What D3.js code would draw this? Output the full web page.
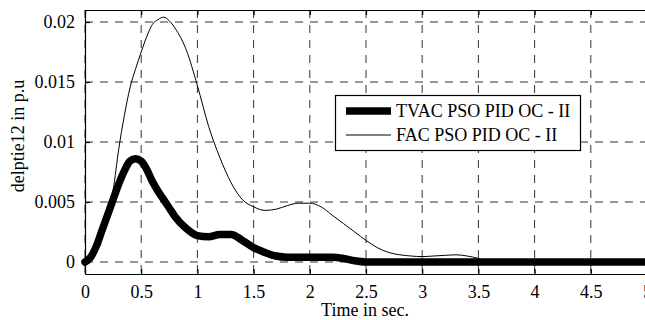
<!DOCTYPE html>
<html>
<head>
<meta charset="utf-8">
<script src="https://cdn.jsdelivr.net/npm/d3@7"></script>
<style>
  html, body { margin: 0; padding: 0; background: #fff; }
  svg { display: block; font-family: "Liberation Serif", "Times New Roman", serif; }
  svg text { font-family: "Liberation Serif", "Times New Roman", serif !important; }
</style>
</head>
<body>
<svg id="chart" width="645" height="320"></svg>
<script>
// Tie-line power deviation (delPtie12) responses, sampled in time (s)
const time = [0, 0.05, 0.1, 0.15, 0.2, 0.25, 0.3, 0.35, 0.4, 0.45, 0.5, 0.55, 0.6, 0.65, 0.7, 0.75,
  0.8, 0.9, 1.0, 1.1, 1.2, 1.3, 1.4, 1.5, 1.6, 1.7, 1.8, 1.9, 2.0, 2.1, 2.2, 2.3, 2.4, 2.5,
  2.6, 2.7, 2.8, 2.9, 3.0, 3.1, 3.2, 3.3, 3.4, 3.5, 3.6, 3.8, 4.0, 4.5, 5.0];

const tvacValues = [0, 0.0004, 0.0013, 0.0026, 0.0039, 0.0052, 0.0065, 0.0076, 0.0084, 0.0086, 0.0084, 0.0077,
  0.0067, 0.0059, 0.0052, 0.0045, 0.0038, 0.0028, 0.0022, 0.0021, 0.0023, 0.0023, 0.0018, 0.0012,
  0.0008, 0.0005, 0.0004, 0.0004, 0.0004, 0.0004, 0.0004, 0.0003, 0.0001, 0, 0, 0, 0, 0, 0, 0, 0, 0,
  0, 0, 0, 0, 0, 0, 0];

const facValues = [0, 0.0004, 0.0013, 0.0026, 0.0040, 0.0060, 0.0094, 0.0122, 0.0145, 0.0161, 0.0175, 0.0188,
  0.0198, 0.0202, 0.0204, 0.0201, 0.0195, 0.0177, 0.0147, 0.0113, 0.0087, 0.0066, 0.0052, 0.0046,
  0.0043, 0.0044, 0.0047, 0.0049, 0.0049, 0.0046, 0.0039, 0.0032, 0.0025, 0.0018, 0.0012, 0.0008,
  0.0006, 0.0005, 0.00045, 0.0005, 0.00055, 0.0006, 0.0005, 0.0003, 0, 0, 0, 0, 0];

const seriesNames = ["TVAC PSO PID OC - II", "FAC PSO PID OC - II"];
const xTicks = [0, 0.5, 1, 1.5, 2, 2.5, 3, 3.5, 4, 4.5, 5];
const xTickLabels = ["0", "0.5", "1", "1.5", "2", "2.5", "3", "3.5", "4", "4.5", "5"];
const yTicks = [0, 0.005, 0.01, 0.015, 0.02];
const yTickLabels = ["0", "0.005", "0.01", "0.015", "0.02"];
const xTitle = "Time in sec.";
const yTitle = "delptie12 in p.u";

const svg = d3.select("#chart");
const plotLeft = 85, plotRight = 647, plotTop = 10, plotBottom = 274;
const serif = "'Liberation Serif', 'Times New Roman', serif";

const x = d3.scaleLinear().domain([0, 5]).range([plotLeft, plotRight]);
const y = d3.scaleLinear().domain([-0.001, 0.021]).range([plotBottom, plotTop]);

// dashed grid
const grid = svg.append("g").attr("stroke", "#333").attr("stroke-width", 1)
  .attr("stroke-dasharray", "8,7").attr("fill", "none");
grid.selectAll("line.v").data(xTicks).join("line").attr("class", "v")
  .attr("x1", d => x(d)).attr("x2", d => x(d)).attr("y1", plotTop).attr("y2", plotBottom);
grid.selectAll("line.h").data(yTicks).join("line").attr("class", "h")
  .attr("x1", plotLeft).attr("x2", plotRight).attr("y1", d => y(d)).attr("y2", d => y(d));

// axes with inward ticks
const xAxis = d3.axisBottom(x).tickValues(xTicks).tickSizeInner(-5).tickSizeOuter(0)
  .tickPadding(11).tickFormat((d, i) => xTickLabels[i]);
const gx = svg.append("g").attr("transform", `translate(0,${plotBottom})`).call(xAxis);
const yAxis = d3.axisLeft(y).tickValues(yTicks).tickSizeInner(-5).tickSizeOuter(0)
  .tickPadding(10).tickFormat((d, i) => yTickLabels[i]);
const gy = svg.append("g").attr("transform", `translate(${plotLeft},0)`).call(yAxis);
const xTopAxis = d3.axisTop(x).tickValues(xTicks).tickSizeInner(-5).tickSizeOuter(0).tickFormat("");
const gt = svg.append("g").attr("transform", `translate(0,${plotTop})`).call(xTopAxis);

[gx, gy, gt].forEach(g => {
  g.attr("font-family", serif).attr("font-size", 18);
  g.selectAll("path, line").attr("stroke", "#000").attr("stroke-width", 1.2);
  g.selectAll("text").attr("fill", "#000");
});

// curves
const line = d3.line().x((d, i) => x(time[i])).y(d => y(d)).curve(d3.curveMonotoneX);
const plot = svg.append("g");
plot.append("path").datum(facValues).attr("d", line)
  .attr("fill", "none").attr("stroke", "#000").attr("stroke-width", 1);
plot.append("path").datum(tvacValues).attr("d", line)
  .attr("fill", "none").attr("stroke", "#000").attr("stroke-width", 7.5)
  .attr("stroke-linejoin", "round").attr("stroke-linecap", "round");

// axis titles
svg.append("text").attr("x", 365).attr("y", 316)
  .attr("text-anchor", "middle").style("font-size", "18px").text(xTitle);
svg.append("text").attr("transform", "translate(24,136) rotate(-90)")
  .attr("text-anchor", "middle").style("font-size", "18px").text(yTitle);

// legend
const lg = svg.append("g");
lg.append("rect").attr("x", 335.5).attr("y", 95.5).attr("width", 245).attr("height", 55)
  .attr("fill", "#fff").attr("stroke", "#000").attr("stroke-width", 1.2);
const widths = [7.5, 1];
seriesNames.forEach((name, i) => {
  const cy = 111 + i * 24;
  lg.append("line").attr("x1", 346).attr("x2", 391).attr("y1", cy).attr("y2", cy)
    .attr("stroke", "#000").attr("stroke-width", widths[i]);
  lg.append("text").attr("x", 396).attr("y", cy + 6).style("font-size", "18px").text(name);
});
</script>
</body>
</html>
